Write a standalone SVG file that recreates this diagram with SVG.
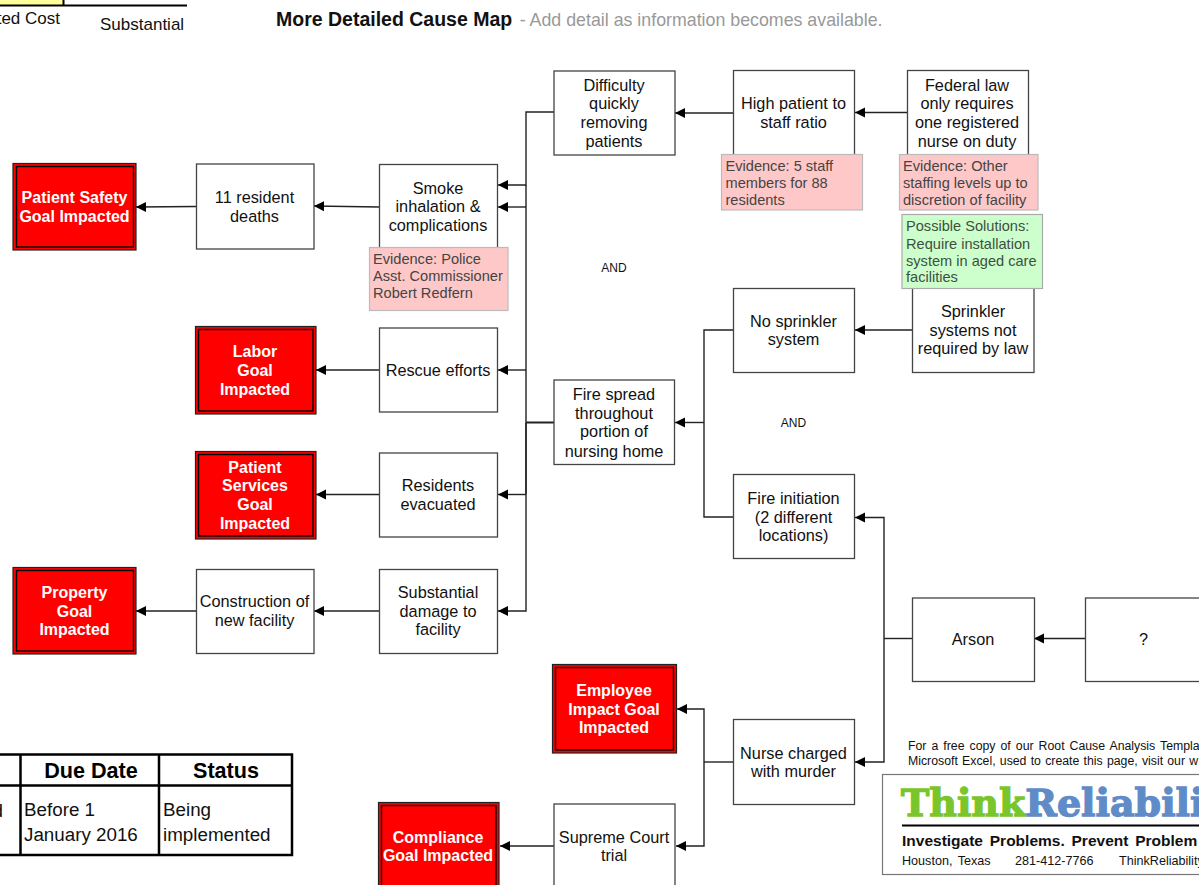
<svg xmlns="http://www.w3.org/2000/svg" width="1199" height="885" viewBox="0 0 1199 885">
<style>
text{font-family:"Liberation Sans",Arial,sans-serif}
.b{fill:#fff;stroke:#444;stroke-width:1.3}
.r{fill:#f00;stroke:#222;stroke-width:1.2}
.ri{fill:#f00;stroke:#000;stroke-width:1.4}
.e{fill:#ffc8c8;stroke:#bbb;stroke-width:1.2}
.s{fill:#ccffcc;stroke:#aaa;stroke-width:1.2}
.t{font-size:16.3px;fill:#111;text-anchor:middle}
.w{font-size:16px;font-weight:bold;fill:#fff;text-anchor:middle}
.n{font-size:14.6px;fill:#444}
.g{font-size:14.6px;fill:#3f4f3f}
.c line,.c path{fill:none;stroke:#222;stroke-width:1.4}
.a{marker-end:url(#arr)}
.tb{stroke:#000;stroke-width:2.5;fill:none}
.hd{font-size:21.6px;font-weight:bold;fill:#000;text-anchor:middle}
.cell{font-size:18.8px;fill:#111}
.sm{font-size:12.6px;fill:#111}
.ft{font-size:12.3px;fill:#111}
</style>
<defs><marker id="arr" markerUnits="userSpaceOnUse" markerWidth="11" markerHeight="12" refX="10" refY="6" orient="auto"><path d="M0,1 L10,6 L0,11 Z" fill="#000"/></marker></defs>

<g id="top-table">
<rect x="-2" y="-2" width="65" height="8" fill="#ffff99"/>
<path d="M0,5.5H187M63.5,0V5.5" stroke="#000" stroke-width="2" fill="none"/>
<text x="60" y="24" font-size="17" fill="#111" text-anchor="end">ted Cost</text>
<text x="100" y="30" font-size="17" fill="#111">Substantial</text>
</g>
<text id="title" x="276" y="26" font-size="19.5" font-weight="bold" fill="#111">More Detailed Cause Map<tspan font-size="17.8" font-weight="normal" fill="#999" dx="7.5">- Add detail as information becomes available.</tspan></text>

<g id="connectors" class="c">
<line class="a" x1="196" y1="206.5" x2="136" y2="207"/>
<line class="a" x1="379.5" y1="207" x2="314" y2="206"/>
<path class="a" d="M554,112H526V185H498"/>
<line x1="526" y1="185" x2="526" y2="494"/>
<path class="a" d="M526,207H498"/>
<path class="a" d="M526,370H498"/>
<path class="a" d="M526,494.5H498"/>
<path class="a" d="M526,423V611H498"/>
<line x1="554" y1="422.5" x2="526" y2="422.5" style="stroke-width:2"/>
<line class="a" x1="733" y1="113" x2="675" y2="113"/>
<line class="a" x1="907" y1="112.5" x2="855" y2="112.5"/>
<line class="a" x1="912" y1="330" x2="855" y2="330"/>
<path d="M733,330H704V517H733"/>
<line class="a" x1="704" y1="422.5" x2="675" y2="422.5"/>
<path class="a" d="M884,638V517.5H855"/>
<path class="a" d="M884,638V762H855"/>
<line x1="912" y1="638.5" x2="884" y2="638.5"/>
<line class="a" x1="1085" y1="638.5" x2="1034" y2="638.5"/>
<line x1="733" y1="762" x2="704" y2="762"/>
<path class="a" d="M704,762V709H677"/>
<path class="a" d="M704,762V846H676"/>
<line class="a" x1="554" y1="846" x2="500" y2="846"/>
<line class="a" x1="379" y1="370" x2="316" y2="370"/>
<line class="a" x1="379" y1="494.5" x2="316" y2="494.5"/>
<line class="a" x1="379" y1="611" x2="314" y2="611"/>
<line class="a" x1="196" y1="611" x2="136" y2="611"/>
</g>

<g id="n-patient-safety"><rect class="r" x="13" y="163.5" width="123" height="86.5"/><rect class="ri" x="16.5" y="166.5" width="117" height="80.5"/><text class="w" x="74.5" y="203">Patient Safety</text><text class="w" x="74.5" y="222">Goal Impacted</text></g>
<g id="n-deaths"><rect class="b" x="196.5" y="164" width="117.5" height="85"/><text class="t" x="254.5" y="203">11 resident</text><text class="t" x="254.5" y="222">deaths</text></g>
<g id="n-smoke"><rect class="b" x="379.5" y="164.5" width="118" height="84"/><text class="t" x="438" y="194">Smoke</text><text class="t" x="438" y="212">inhalation &amp;</text><text class="t" x="438" y="231">complications</text></g>
<g id="e-police"><rect class="e" x="369.5" y="247.5" width="138.5" height="63"/><text class="n" x="373" y="264">Evidence: Police</text><text class="n" x="373" y="281">Asst. Commissioner</text><text class="n" x="373" y="298">Robert Redfern</text></g>
<g id="n-difficulty"><rect class="b" x="554" y="71" width="121" height="84"/><text class="t" x="614" y="91">Difficulty</text><text class="t" x="614" y="109">quickly</text><text class="t" x="614" y="128">removing</text><text class="t" x="614" y="147">patients</text></g>
<g id="n-high"><rect class="b" x="733.5" y="70.5" width="121" height="85"/><text class="t" x="793.5" y="109">High patient to</text><text class="t" x="793.5" y="128">staff ratio</text></g>
<g id="n-federal"><rect class="b" x="907.5" y="70.5" width="121" height="85"/><text class="t" x="967" y="91">Federal law</text><text class="t" x="967" y="109">only requires</text><text class="t" x="967" y="128">one registered</text><text class="t" x="967" y="147">nurse on duty</text></g>
<g id="e-staff"><rect class="e" x="721.5" y="154.5" width="141" height="55.5"/><text class="n" x="725.5" y="171">Evidence: 5 staff</text><text class="n" x="725.5" y="188">members for 88</text><text class="n" x="725.5" y="205">residents</text></g>
<g id="e-other"><rect class="e" x="899.5" y="154.5" width="138.5" height="55.5"/><text class="n" x="903" y="171">Evidence: Other</text><text class="n" x="903" y="188">staffing levels up to</text><text class="n" x="903" y="205">discretion of facility</text></g>
<g id="n-sprinkler-law"><rect class="b" x="912.5" y="285" width="121.5" height="87.5"/><text class="t" x="973" y="317">Sprinkler</text><text class="t" x="973" y="336">systems not</text><text class="t" x="973" y="354">required by law</text></g>
<g id="s-install"><rect class="s" x="902" y="214.5" width="140.5" height="74"/><text class="g" x="906" y="231">Possible Solutions:</text><text class="g" x="906" y="249">Require installation</text><text class="g" x="906" y="266">system in aged care</text><text class="g" x="906" y="282">facilities</text></g>
<g id="n-no-sprinkler"><rect class="b" x="733.5" y="288.5" width="121" height="84"/><text class="t" x="793.5" y="327">No sprinkler</text><text class="t" x="793.5" y="345">system</text></g>
<g id="n-fire-spread"><rect class="b" x="554" y="380" width="120.5" height="84.5"/><text class="t" x="614" y="400">Fire spread</text><text class="t" x="614" y="419">throughout</text><text class="t" x="614" y="437">portion of</text><text class="t" x="614" y="457">nursing home</text></g>
<g id="n-fire-init"><rect class="b" x="733.5" y="474.5" width="121" height="84"/><text class="t" x="793.5" y="504">Fire initiation</text><text class="t" x="793.5" y="523">(2 different</text><text class="t" x="793.5" y="541">locations)</text></g>
<g id="n-arson"><rect class="b" x="912.5" y="598" width="122" height="83.5"/><text class="t" x="973" y="645">Arson</text></g>
<g id="n-unknown"><rect class="b" x="1085.5" y="598" width="130" height="83.5"/><text class="t" x="1143.5" y="645">?</text></g>
<g id="n-rescue"><rect class="b" x="379.5" y="328" width="118" height="84"/><text class="t" x="438" y="376">Rescue efforts</text></g>
<g id="n-labor"><rect class="r" x="195.5" y="326.5" width="120.5" height="87.5"/><rect class="ri" x="198.5" y="329.5" width="114.5" height="81.5"/><text class="w" x="255" y="357">Labor</text><text class="w" x="255" y="376">Goal</text><text class="w" x="255" y="395">Impacted</text></g>
<g id="n-evacuated"><rect class="b" x="379.5" y="453" width="118" height="84"/><text class="t" x="438" y="491">Residents</text><text class="t" x="438" y="510">evacuated</text></g>
<g id="n-services"><rect class="r" x="195.5" y="451.5" width="120.5" height="87.5"/><rect class="ri" x="198.5" y="454.5" width="114.5" height="81.5"/><text class="w" x="255" y="473">Patient</text><text class="w" x="255" y="491">Services</text><text class="w" x="255" y="510">Goal</text><text class="w" x="255" y="529">Impacted</text></g>
<g id="n-damage"><rect class="b" x="379.5" y="569.5" width="118" height="84"/><text class="t" x="438" y="598">Substantial</text><text class="t" x="438" y="617">damage to</text><text class="t" x="438" y="635">facility</text></g>
<g id="n-construction"><rect class="b" x="196.5" y="569.5" width="117.5" height="84"/><text class="t" x="254.5" y="607">Construction of</text><text class="t" x="254.5" y="626">new facility</text></g>
<g id="n-property"><rect class="r" x="13" y="567.5" width="123" height="86.5"/><rect class="ri" x="16.5" y="570.5" width="117" height="80.5"/><text class="w" x="74.5" y="598">Property</text><text class="w" x="74.5" y="617">Goal</text><text class="w" x="74.5" y="635">Impacted</text></g>
<g id="n-employee"><rect class="r" x="552.5" y="664.5" width="124" height="88.5"/><rect class="ri" x="555.5" y="667.5" width="118" height="82.5"/><text class="w" x="614" y="696">Employee</text><text class="w" x="614" y="715">Impact Goal</text><text class="w" x="614" y="733">Impacted</text></g>
<g id="n-nurse"><rect class="b" x="733.5" y="719.5" width="121" height="85"/><text class="t" x="793.5" y="759">Nurse charged</text><text class="t" x="793.5" y="777">with murder</text></g>
<g id="n-supreme"><rect class="b" x="554" y="804" width="121" height="90"/><text class="t" x="614" y="843">Supreme Court</text><text class="t" x="614" y="861">trial</text></g>
<g id="n-compliance"><rect class="r" x="378.5" y="802.5" width="120.5" height="95"/><rect class="ri" x="381.5" y="805.5" width="114.5" height="95"/><text class="w" x="438" y="843">Compliance</text><text class="w" x="438" y="861">Goal Impacted</text></g>

<text x="614" y="272" font-size="12" fill="#111" text-anchor="middle">AND</text>
<text x="793.5" y="427" font-size="12" fill="#111" text-anchor="middle">AND</text>

<g id="bottom-table">
<path class="tb" d="M0,754.5H292V855H0M0,785.5H292M20.5,754.5V855M159,754.5V855"/>
<text class="hd" x="91" y="778">Due Date</text><text class="hd" x="226" y="778">Status</text>
<text class="cell" x="3" y="817" text-anchor="end">d</text>
<text class="cell" x="24" y="816">Before 1</text><text class="cell" x="24" y="841">January 2016</text>
<text class="cell" x="163" y="816">Being</text><text class="cell" x="163" y="841">implemented</text>
</g>

<g id="logo">
<text class="ft" x="908" y="750" word-spacing="1.6">For a free copy of our Root Cause Analysis  Templa</text>
<text class="ft" x="908" y="765" word-spacing="0.8">Microsoft Excel, used to create this page, visit our w</text>
<rect x="882.5" y="774.5" width="330" height="100" fill="#fff" stroke="#777" stroke-width="1.2"/>
<text x="901" y="816" font-size="38" font-weight="bold" style='font-family:"DejaVu Serif",serif;stroke-width:1.3' fill="#7ac52b" stroke="#7ac52b">Think<tspan fill="#5f8cc8" stroke="#5f8cc8">Reliabili</tspan></text>
<line x1="902" y1="825.5" x2="1199" y2="825.5" stroke="#000" stroke-width="2"/>
<text x="902" y="846" font-size="15.5" font-weight="bold" fill="#111" word-spacing="2.5">Investigate Problems. Prevent Problem</text>
<text class="sm" x="902" y="865" word-spacing="2">Houston, Texas</text>
<text class="sm" x="1015" y="865">281-412-7766</text>
<text class="sm" x="1119" y="865">ThinkReliability</text>
</g>
</svg>
